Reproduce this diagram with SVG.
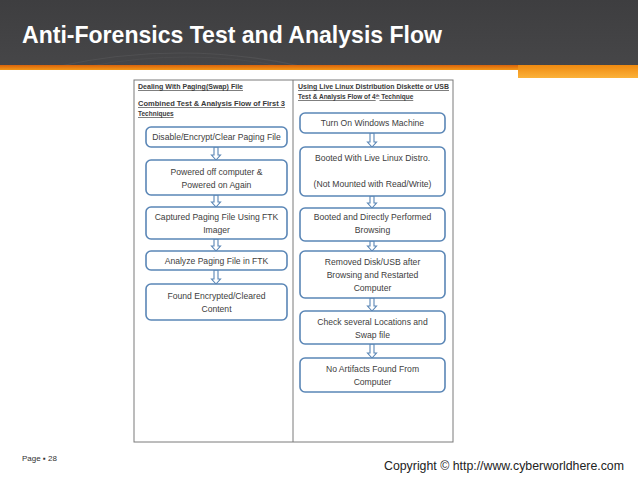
<svg xmlns="http://www.w3.org/2000/svg" width="638" height="479" viewBox="0 0 638 479">
<defs>
<linearGradient id="hdr" x1="0" y1="0" x2="0" y2="1">
<stop offset="0" stop-color="#3e3e40"/><stop offset="1" stop-color="#464648"/>
</linearGradient>
<linearGradient id="org" x1="0" y1="0" x2="0" y2="1">
<stop offset="0" stop-color="#d9620a"/><stop offset="1" stop-color="#f59a1a"/>
</linearGradient>
<linearGradient id="org2" x1="0" y1="0" x2="0" y2="1">
<stop offset="0" stop-color="#f08a10"/><stop offset="1" stop-color="#fbb23a"/>
</linearGradient>
<style>
.box{fill:#ffffff;stroke:#5a86b6;stroke-width:1.6}
.arr{fill:#ffffff;stroke:#5a86b6;stroke-width:1.1}
.t{font-family:"Liberation Sans",Arial,sans-serif;font-size:8.6px;fill:#404040;text-anchor:middle}
.h{font-family:"Liberation Sans",Arial,sans-serif;font-size:6.5px;font-weight:bold;fill:#3a3a3a;text-decoration:underline}
</style>
</defs>
<rect width="638" height="479" fill="#ffffff"/>
<g id="header">
<rect x="0" y="0" width="638" height="66" fill="url(#hdr)"/>
<path d="M60,66 Q180,40 300,66" fill="none" stroke="#505052" stroke-width="1.2"/>
<path d="M90,66 Q190,48 280,66" fill="none" stroke="#4c4c4e" stroke-width="1"/>
<rect x="0" y="65" width="638" height="5" fill="url(#org)"/>
<rect x="518" y="65" width="120" height="13" fill="url(#org2)"/>
<text x="22" y="43" font-family="'Liberation Sans',Arial,sans-serif" font-size="24" font-weight="bold" fill="#ffffff" textLength="420" lengthAdjust="spacingAndGlyphs">Anti-Forensics Test and Analysis Flow</text>
</g>
<g id="table">
<rect x="134" y="80" width="319" height="362" fill="#ffffff" stroke="#7a7a7a" stroke-width="1"/>
<line x1="293" y1="80" x2="293" y2="442" stroke="#7a7a7a" stroke-width="1"/>
<text class="h" x="138" y="89" textLength="105" lengthAdjust="spacingAndGlyphs">Dealing With Paging(Swap) File</text>
<text class="h" x="138" y="106" textLength="147" lengthAdjust="spacingAndGlyphs">Combined Test &amp; Analysis Flow of First 3</text>
<text class="h" x="138" y="116">Techniques</text>
<text class="h" x="298" y="89" textLength="151" lengthAdjust="spacingAndGlyphs">Using Live Linux Distribution Diskette or USB</text>
<text class="h" x="298" y="99">Test &amp; Analysis Flow of 4<tspan font-size="4" dy="-2">th</tspan><tspan dy="2"> Technique</tspan></text>
</g>
<g id="connectors">
<path class="arr" d="M214,147 V155 H211.5 L216,160 L220.5,155 H218 V147 Z"/>
<path class="arr" d="M214,195 V202 H211.5 L216,207 L220.5,202 H218 V195 Z"/>
<path class="arr" d="M214,239 V246 H211.5 L216,251 L220.5,246 H218 V239 Z"/>
<path class="arr" d="M214,270 V279 H211.5 L216,284 L220.5,279 H218 V270 Z"/>
<path class="arr" d="M370,133 V142 H367.5 L372,147 L376.5,142 H374 V133 Z"/>
<path class="arr" d="M370,196 V203 H367.5 L372,208 L376.5,203 H374 V196 Z"/>
<path class="arr" d="M370,241 V246 H367.5 L372,251 L376.5,246 H374 V241 Z"/>
<path class="arr" d="M370,298 V306 H367.5 L372,311 L376.5,306 H374 V298 Z"/>
<path class="arr" d="M370,344 V353 H367.5 L372,358 L376.5,353 H374 V344 Z"/>
</g>
<g id="L1"><rect class="box" x="146" y="127" width="141" height="20" rx="5"/><text class="t" x="216.5" y="140">Disable/Encrypt/Clear Paging File</text></g>
<g id="L2"><rect class="box" x="146" y="160" width="141" height="35" rx="5"/><text class="t" x="216.5" y="175">Powered off computer &amp;</text><text class="t" x="216.5" y="188">Powered on Again</text></g>
<g id="L3"><rect class="box" x="146" y="207" width="141" height="32" rx="5"/><text class="t" x="216.5" y="220">Captured Paging File Using FTK</text><text class="t" x="216.5" y="233">Imager</text></g>
<g id="L4"><rect class="box" x="146" y="251" width="141" height="19" rx="5"/><text class="t" x="216.5" y="263.5">Analyze Paging File in FTK</text></g>
<g id="L5"><rect class="box" x="146" y="284" width="141" height="36" rx="5"/><text class="t" x="216.5" y="299">Found Encrypted/Cleared</text><text class="t" x="216.5" y="312">Content</text></g>
<g id="R1"><rect class="box" x="300" y="113" width="145" height="20" rx="5"/><text class="t" x="372.5" y="126">Turn On Windows Machine</text></g>
<g id="R2"><rect class="box" x="300" y="147" width="145" height="49" rx="5"/><text class="t" x="372.5" y="161">Booted With Live Linux Distro.</text><text class="t" x="372.5" y="187">(Not Mounted with Read/Write)</text></g>
<g id="R3"><rect class="box" x="300" y="208" width="145" height="33" rx="5"/><text class="t" x="372.5" y="220">Booted and Directly Performed</text><text class="t" x="372.5" y="233">Browsing</text></g>
<g id="R4"><rect class="box" x="300" y="251" width="145" height="47" rx="5"/><text class="t" x="372.5" y="265">Removed Disk/USB after</text><text class="t" x="372.5" y="278">Browsing and Restarted</text><text class="t" x="372.5" y="291">Computer</text></g>
<g id="R5"><rect class="box" x="300" y="311" width="145" height="33" rx="5"/><text class="t" x="372.5" y="325">Check several Locations and</text><text class="t" x="372.5" y="338">Swap file</text></g>
<g id="R6"><rect class="box" x="300" y="358" width="145" height="34" rx="5"/><text class="t" x="372.5" y="372">No Artifacts Found From</text><text class="t" x="372.5" y="385">Computer</text></g>
<g id="footer">
<text x="22" y="461" font-family="'Liberation Sans',Arial,sans-serif" font-size="8" fill="#333333">Page ▪ 28</text>
<text x="384" y="470" font-family="'Liberation Sans',Arial,sans-serif" font-size="12" fill="#222222" textLength="240" lengthAdjust="spacingAndGlyphs">Copyright © http://www.cyberworldhere.com</text>
</g>
</svg>
